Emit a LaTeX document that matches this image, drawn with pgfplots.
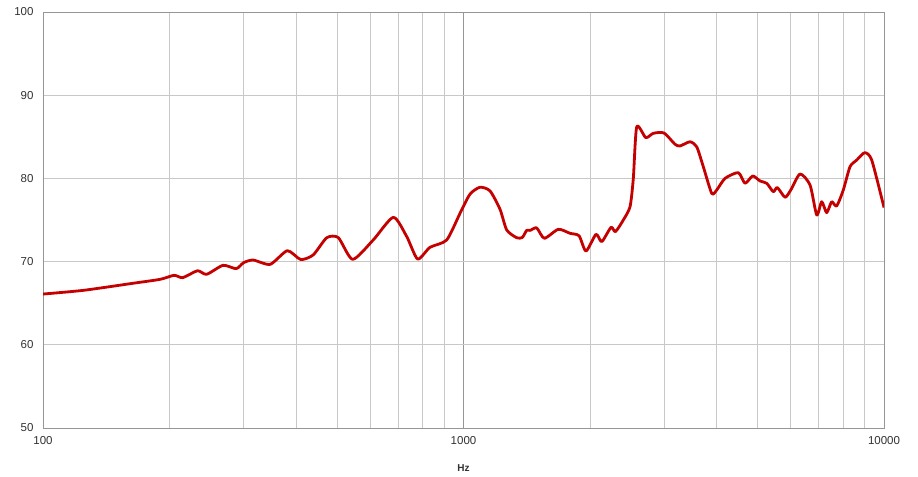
\documentclass[border=0pt]{standalone}
\usepackage{pgfplots}
\pgfplotsset{compat=1.18}
\usepackage{fontspec}
\setmainfont{Liberation Sans}
\definecolor{curve}{RGB}{196,0,0}
\definecolor{gridminor}{RGB}{200,200,200}
\definecolor{gridmajor}{RGB}{150,150,150}
\definecolor{lbl}{RGB}{50,50,50}
\begin{document}
\begin{tikzpicture}
\begin{semilogxaxis}[
  name=ax,
  scale only axis,
  width=841pt, height=416pt,
  xmin=100, xmax=10000, ymin=50, ymax=100,
  xtick={100,1000,10000},
  xticklabels={100,1000,10000},
  minor xtick={200,300,400,500,600,700,800,900,2000,3000,4000,5000,6000,7000,8000,9000},
  ytick={50,60,70,80,90,100},
  major tick length=0pt, minor tick length=0pt,
  xmajorgrids, xminorgrids, ymajorgrids,
  major grid style={gridmajor, line width=0.8pt},
  minor grid style={gridminor, line width=0.8pt},
  y grid style={gridminor, line width=0.8pt},
  axis line style={gridmajor, line width=0.8pt},
  tick label style={font=\fontsize{11.5}{12}\selectfont, text=lbl},
  /pgf/number format/assume math mode=true,
  xlabel={\bfseries Hz},
  xlabel style={font=\fontsize{10}{12}\selectfont, text=lbl, yshift=-13pt},
  xticklabel style={yshift=-5pt},
  yticklabel style={xshift=-6pt},
]
\addplot[curve, line width=2.8pt, smooth, tension=0.4, line join=round] coordinates {
(100,66.1) (125,66.55) (164,67.4) (190,67.87) (205,68.35) (215,68.07)
(233,68.9) (245,68.47) (268,69.55) (288,69.15) (300,69.87) (316,70.19)
(347,69.67) (381,71.31) (410,70.25) (439,70.8) (473,72.87) (504,72.87)
(545,70.27) (610,72.6) (681,75.32) (733,73.0) (778,70.31) (832,71.71)
(912,72.6) (981,75.8) (1036,78.1) (1094,78.93) (1156,78.5) (1221,76.3)
(1267,73.8) (1338,72.87) (1380,72.9) (1413,73.75) (1440,73.75) (1493,74.05)
(1557,72.8) (1680,73.88) (1792,73.4) (1883,73.1) (1956,71.27) (2066,73.28)
(2132,72.4) (2243,74.12) (2298,73.6) (2399,75.0) (2489,76.6) (2534,80.0)
(2582,86.2) (2713,84.9) (2828,85.42) (3000,85.45) (3184,84.1) (3273,83.9)
(3456,84.4) (3586,83.8) (3718,81.4) (3893,78.2) (4000,78.6) (4187,80.0)
(4503,80.69) (4671,79.41) (4873,80.29) (5071,79.69) (5261,79.41) (5454,78.4)
(5576,78.9) (5817,77.73) (6000,78.6) (6314,80.53) (6670,79.2) (6918,75.6)
(7110,77.2) (7306,75.88) (7508,77.2) (7716,76.68) (8000,78.6) (8301,81.4)
(8610,82.2) (9000,83.09) (9349,82.2) (10000,76.5)
};
\end{semilogxaxis}
\path ([xshift=-43pt,yshift=-49pt]ax.south west) rectangle ([xshift=34pt,yshift=12pt]ax.north east);
\end{tikzpicture}
\end{document}
